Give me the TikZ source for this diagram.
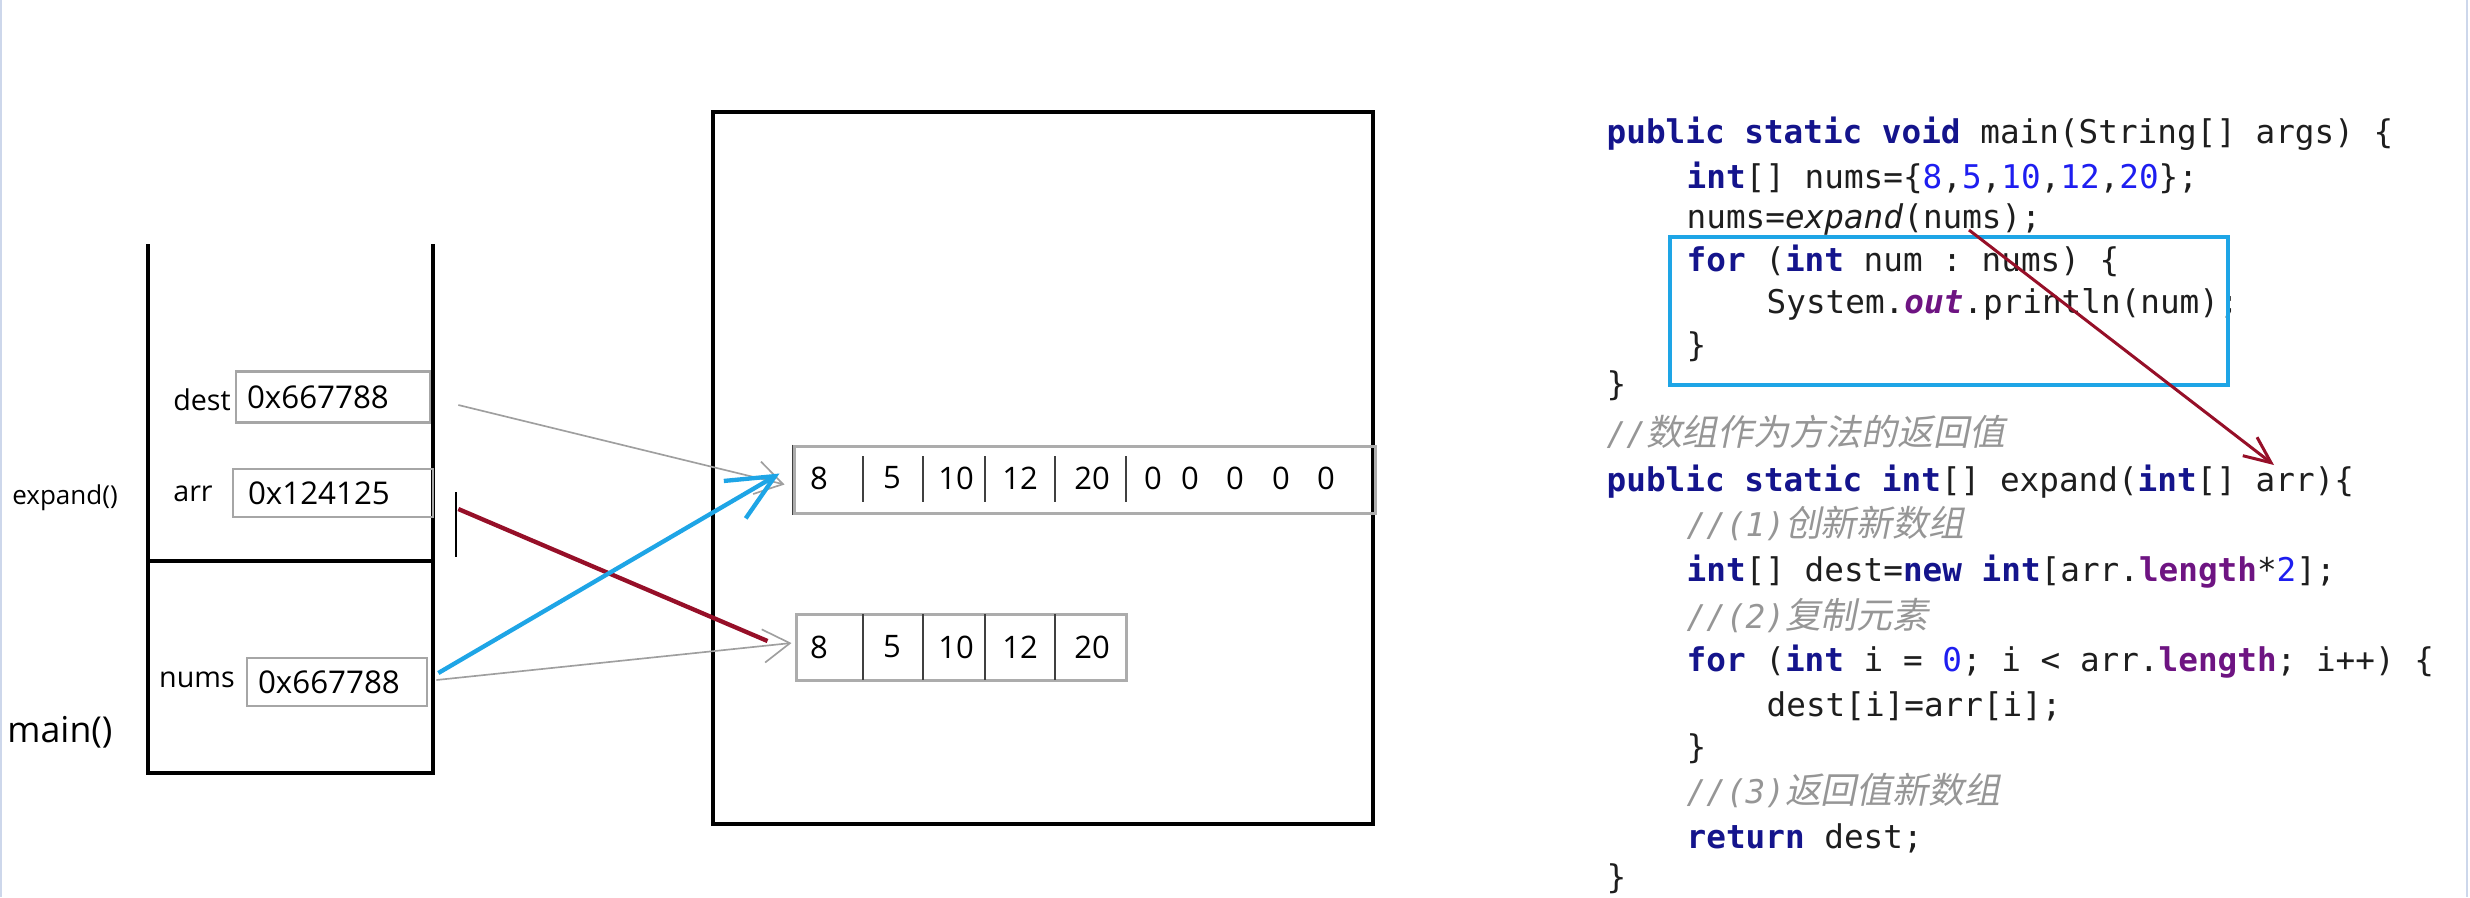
\documentclass[tikz,border=0pt]{standalone}
\usepackage{fontspec}
\setmainfont{Open Sans}
\setmonofont{DejaVu Sans Mono}
\newfontfamily\cjk[Scale=1.1,FakeSlant=0.2]{Noto Sans CJK SC}
\usepackage{tikz}
\usetikzlibrary{positioning,arrows.meta,calc}
\definecolor{kwblue}{RGB}{20,20,140}
\definecolor{numblue}{RGB}{30,30,240}
\definecolor{fldpurple}{RGB}{110,20,130}
\definecolor{cmtgray}{RGB}{150,150,150}
\definecolor{codeblack}{RGB}{30,30,30}
\definecolor{jblue}{RGB}{30,165,230}
\definecolor{jred}{RGB}{150,15,40}
\definecolor{edgeblue}{RGB}{205,215,235}
\tikzstyle{valbox}=[rectangle, draw=gray!70, line width=0.8pt, inner xsep=3.3pt, inner ysep=0pt, align=left, font=\fontsize{9.4}{11}\selectfont]
\tikzstyle{lbl}=[inner sep=0pt, font=\fontsize{8.6}{10}\selectfont]
\tikzstyle{arrbox}=[rectangle, draw=gray!65, line width=0.9pt, inner sep=0pt]
\tikzstyle{cellline}=[-, line width=0.5pt, black!75]
\tikzstyle{numtxt}=[inner sep=0pt, font=\fontsize{9.3}{10}\selectfont]
\tikzstyle{stackline}=[-, line width=1.2pt]
\tikzstyle{code}=[anchor=base west, inner sep=0pt, font=\ttfamily\fontsize{9.8}{12}\selectfont, text=codeblack]
\tikzstyle{gline}=[-{Straight Barb[length=8pt,width=10pt]}, line width=0.5pt, gray!75]
\tikzstyle{bline}=[-{Straight Barb[length=14pt,width=13pt]}, line width=1.3pt, jblue]
\tikzstyle{rline}=[-, line width=1.3pt, jred]
\tikzstyle{rarrow}=[-{Straight Barb[length=8pt,width=7pt]}, line width=0.9pt, jred]
\tikzstyle{hlbox}=[draw=jblue, line width=1.2pt]
\newcommand{\jkw}[1]{{\bfseries\color{kwblue}#1}}
\newcommand{\jnum}[1]{{\color{numblue}#1}}
\newcommand{\jfld}[1]{{\bfseries\color{fldpurple}#1}}
\newcommand{\jout}[1]{{\bfseries\itshape\color{fldpurple}#1}}
\newcommand{\jcmt}[1]{{\itshape\color{cmtgray}#1}}
\begin{document}
\begin{tikzpicture}[x=0.3pt, y=-0.3pt]
\useasboundingbox (0,0) rectangle (2470,897);
\draw[edgeblue, line width=0.6pt] (1,0) -- (1,897);
\draw[edgeblue, line width=0.6pt] (2467,0) -- (2467,897);

%stack
\draw[stackline] (148,244) -- (148,773) -- (433,773) -- (433,244);
\draw[stackline] (148,561) -- (433,561);
\node (dest) [valbox, text width=51.6pt, minimum height=15.3pt] at (333,397) {0x667788};
\node (arr) [valbox, inner xsep=4.5pt, text width=51pt, minimum height=14.4pt] at (333,493) {\raisebox{-1pt}{0x124125}};
\node (nums) [valbox, text width=47.4pt, minimum height=14.4pt] at (337,682) {0x667788};
\node (ldest) [lbl] at (202,400) {dest};
\node (larr) [lbl] at (193,494) {arr};
\node (lnums) [lbl] at (197,680) {nums};
\node (lexp) [lbl, font=\fontsize{7.8}{9}\selectfont] at (65,498) {expand()};
\node (lmain) [lbl, font=\fontsize{10.7}{12}\selectfont] at (60,732) {main()};
\draw[line width=0.5pt] (456,492) -- (456,557);

%heap
\node (heap) [draw, line width=1.2pt, inner sep=0pt, minimum width=198pt, minimum height=213.6pt] at (1043,468) {};
\node (bigarr) [arrbox, minimum width=174.3pt, minimum height=20.1pt] at (1084.5,479.5) {};
\node (smallarr) [arrbox, minimum width=99pt, minimum height=19.8pt] at (961,647) {};
\draw[cellline] (bigarr.north west) -- (bigarr.south west);
\draw[cellline] (863,456) -- (863,502);
\draw[cellline] (923,456) -- (923,502);
\draw[cellline] (985,456) -- (985,502);
\draw[cellline] (1055,456) -- (1055,502);
\draw[cellline] (1126,456) -- (1126,502);
\draw[cellline] (863,614) -- (863,680);
\draw[cellline] (923,614) -- (923,680);
\draw[cellline] (985,614) -- (985,680);
\draw[cellline] (1055,614) -- (1055,680);
\node (b1) [numtxt] at (819,478) {8};
\node (b2) [numtxt] at (892,478) {5};
\node (b3) [numtxt] at (956,478) {10};
\node (b4) [numtxt] at (1020,478) {12};
\node (b5) [numtxt] at (1092,478) {20};
\node (b6) [numtxt] at (1153,478) {0};
\node (b7) [numtxt] at (1190,478) {0};
\node (b8) [numtxt] at (1235,478) {0};
\node (b9) [numtxt] at (1281,478) {0};
\node (b10) [numtxt] at (1326,478) {0};
\node (s1) [numtxt] at (819,647) {8};
\node (s2) [numtxt] at (892,647) {5};
\node (s3) [numtxt] at (956,647) {10};
\node (s4) [numtxt] at (1020,647) {12};
\node (s5) [numtxt] at (1092,647) {20};

%references
\draw[gline] ($(dest.east)+(27,8)$) -- ($(bigarr.west)+(-8,5)$);
\draw[gline] ($(nums.east)+(8,-2)$) -- ($(smallarr.west)+(-3,-4)$);
\draw[rline] ($(arr.east)+(24,16)$) -- ($(smallarr.west)+(-27,-6)$);
\draw[bline] ($(nums.east)+(10,-9)$) -- ($(bigarr.west)+(-13,-6)$);

%code
\node (l1) [code] at (1606,143) {\jkw{public static void} main(String[] args) \{};
\node (l2) [code] at (1686,188) {\jkw{int}[] nums=\{\jnum{8},\jnum{5},\jnum{10},\jnum{12},\jnum{20}\};};
\node (l3) [code] at (1686,228) {nums=\textit{expand}(nums);};
\node (l4) [code] at (1686,271) {\jkw{for} (\jkw{int} num : nums) \{};
\node (l5) [code] at (1766,313) {System.\jout{out}.println(num);};
\node (l6) [code] at (1686,356) {\}};
\node (l7) [code] at (1606,395) {\}};
\node (l8) [code] at (1606,445) {\jcmt{//{\cjk 数组作为方法的返回值}}};
\node (l9) [code] at (1606,491) {\jkw{public static int}[] expand(\jkw{int}[] arr)\{};
\node (l10) [code] at (1686,536) {\jcmt{//(1){\cjk 创新新数组}}};
\node (l11) [code] at (1686,581) {\jkw{int}[] dest=\jkw{new} \jkw{int}[arr.\jfld{length}*\jnum{2}];};
\node (l12) [code] at (1686,628) {\jcmt{//(2){\cjk 复制元素}}};
\node (l13) [code] at (1686,671) {\jkw{for} (\jkw{int} i = \jnum{0}; i < arr.\jfld{length}; i++) \{};
\node (l14) [code] at (1766,716) {dest[i]=arr[i];};
\node (l15) [code] at (1686,758) {\}};
\node (l16) [code] at (1686,803) {\jcmt{//(3){\cjk 返回值新数组}}};
\node (l17) [code] at (1686,848) {\jkw{return} dest;};
\node (l18) [code] at (1606,888) {\}};
\draw[hlbox] (1670,237) rectangle (2228,385);
\draw[rarrow] ($(l3.base west)+(283,2)$) -- ($(l9.base west)+(668,-26)$);

\end{tikzpicture}
\end{document}
